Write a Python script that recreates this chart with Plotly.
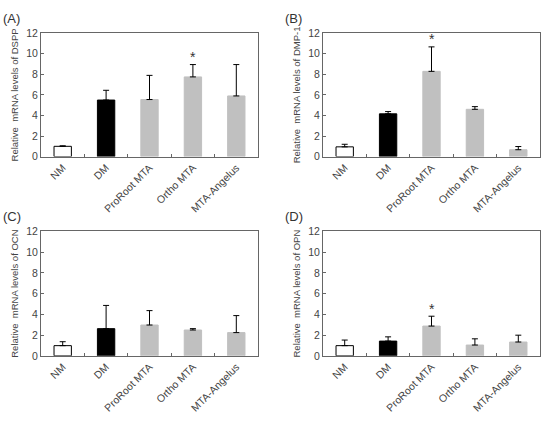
import plotly.graph_objects as go

categories = ["NM", "DM", "ProRoot MTA", "Ortho MTA", "MTA-Angelus"]

dspp_mean = [1.0, 5.5, 5.55, 7.75, 5.9]
dspp_err = [0.05, 0.95, 2.35, 1.2, 3.05]
dmp1_mean = [0.95, 4.16, 8.29, 4.6, 0.67]
dmp1_err = [0.25, 0.22, 2.38, 0.26, 0.31]
ocn_mean = [0.98, 2.62, 2.97, 2.49, 2.24]
ocn_err = [0.38, 2.24, 1.39, 0.13, 1.64]
opn_mean = [0.98, 1.42, 2.87, 1.04, 1.33]
opn_err = [0.54, 0.41, 0.95, 0.6, 0.66]

panel_labels = ["(A)", "(B)", "(C)", "(D)"]
gene_names = ["DSPP", "DMP-1", "OCN", "OPN"]
star_index = [3, 2, None, 2]
star_y = [9.7, 11.4, None, 4.5]

y_ticks = [0, 2, 4, 6, 8, 10, 12]

W, H = 547, 424
panels = [
    (dspp_mean, dspp_err, (41, 258), (28, 155)),
    (dmp1_mean, dmp1_err, (323, 540), (28, 155)),
    (ocn_mean, ocn_err, (41, 258), (232, 360)),
    (opn_mean, opn_err, (323, 540), (232, 360)),
]

fill_colors = ["white", "black", "#c0c0c0", "#c0c0c0", "#c0c0c0"]
line_colors = ["black", "black", "#c0c0c0", "#c0c0c0", "#c0c0c0"]

fig = go.Figure()
layout = dict(
    width=W, height=H, margin=dict(l=0, r=0, t=0, b=0),
    paper_bgcolor="white", plot_bgcolor="white", showlegend=False,
    font=dict(family="Liberation Sans, Arial", size=10, color="#444"),
)
annotations = []
for i, (mean, err, (x0, x1), (y0, y1)) in enumerate(panels):
    n = i + 1
    xa = "x" if n == 1 else f"x{n}"
    ya = "y" if n == 1 else f"y{n}"
    fig.add_trace(go.Bar(
        x=categories, y=mean, xaxis=xa, yaxis=ya, width=0.4,
        marker=dict(color=fill_colors, line=dict(color=line_colors, width=1)),
        error_y=dict(type="data", array=err, symmetric=False,
                     arrayminus=[0] * len(err), color="black",
                     thickness=1, width=3),
    ))
    layout[f"xaxis{'' if n == 1 else n}"] = dict(
        domain=[x0 / W, x1 / W], anchor=ya, type="category",
        showline=True, linecolor="#666", linewidth=1, mirror=True,
        ticks="inside", ticklen=3, tickcolor="#666", tickson="boundaries",
        tickangle=-45, tickfont=dict(size=10.5, color="#444"),
        range=[-0.5, 4.5], showgrid=False, zeroline=False,
    )
    layout[f"yaxis{'' if n == 1 else n}"] = dict(
        domain=[1 - y1 / H, 1 - y0 / H], anchor=xa,
        range=[0, 12], tickvals=y_ticks,
        showline=True, linecolor="#666", linewidth=1, mirror=True,
        ticks="inside", ticklen=3, tickcolor="#666",
        tickfont=dict(size=10.5, color="#444"), showgrid=False, zeroline=False,
        title=dict(text=f"Relative  mRNA levels of {gene_names[i]}",
                   font=dict(size=9.5, color="#444"), standoff=5),
    )
    annotations.append(dict(
        text=panel_labels[i], x=(x0 - 40) / W, y=1 - (y0 - 15) / H,
        xref="paper", yref="paper", xanchor="left", yanchor="middle",
        showarrow=False, font=dict(size=13, color="#333"),
    ))
    if star_index[i] is not None:
        annotations.append(dict(
            text="*", x=categories[star_index[i]], y=star_y[i],
            xref=xa, yref=ya, showarrow=False,
            font=dict(size=14, color="#333"), yanchor="middle",
        ))

layout["annotations"] = annotations
fig.update_layout(**layout)
fig.write_html("out.html")
